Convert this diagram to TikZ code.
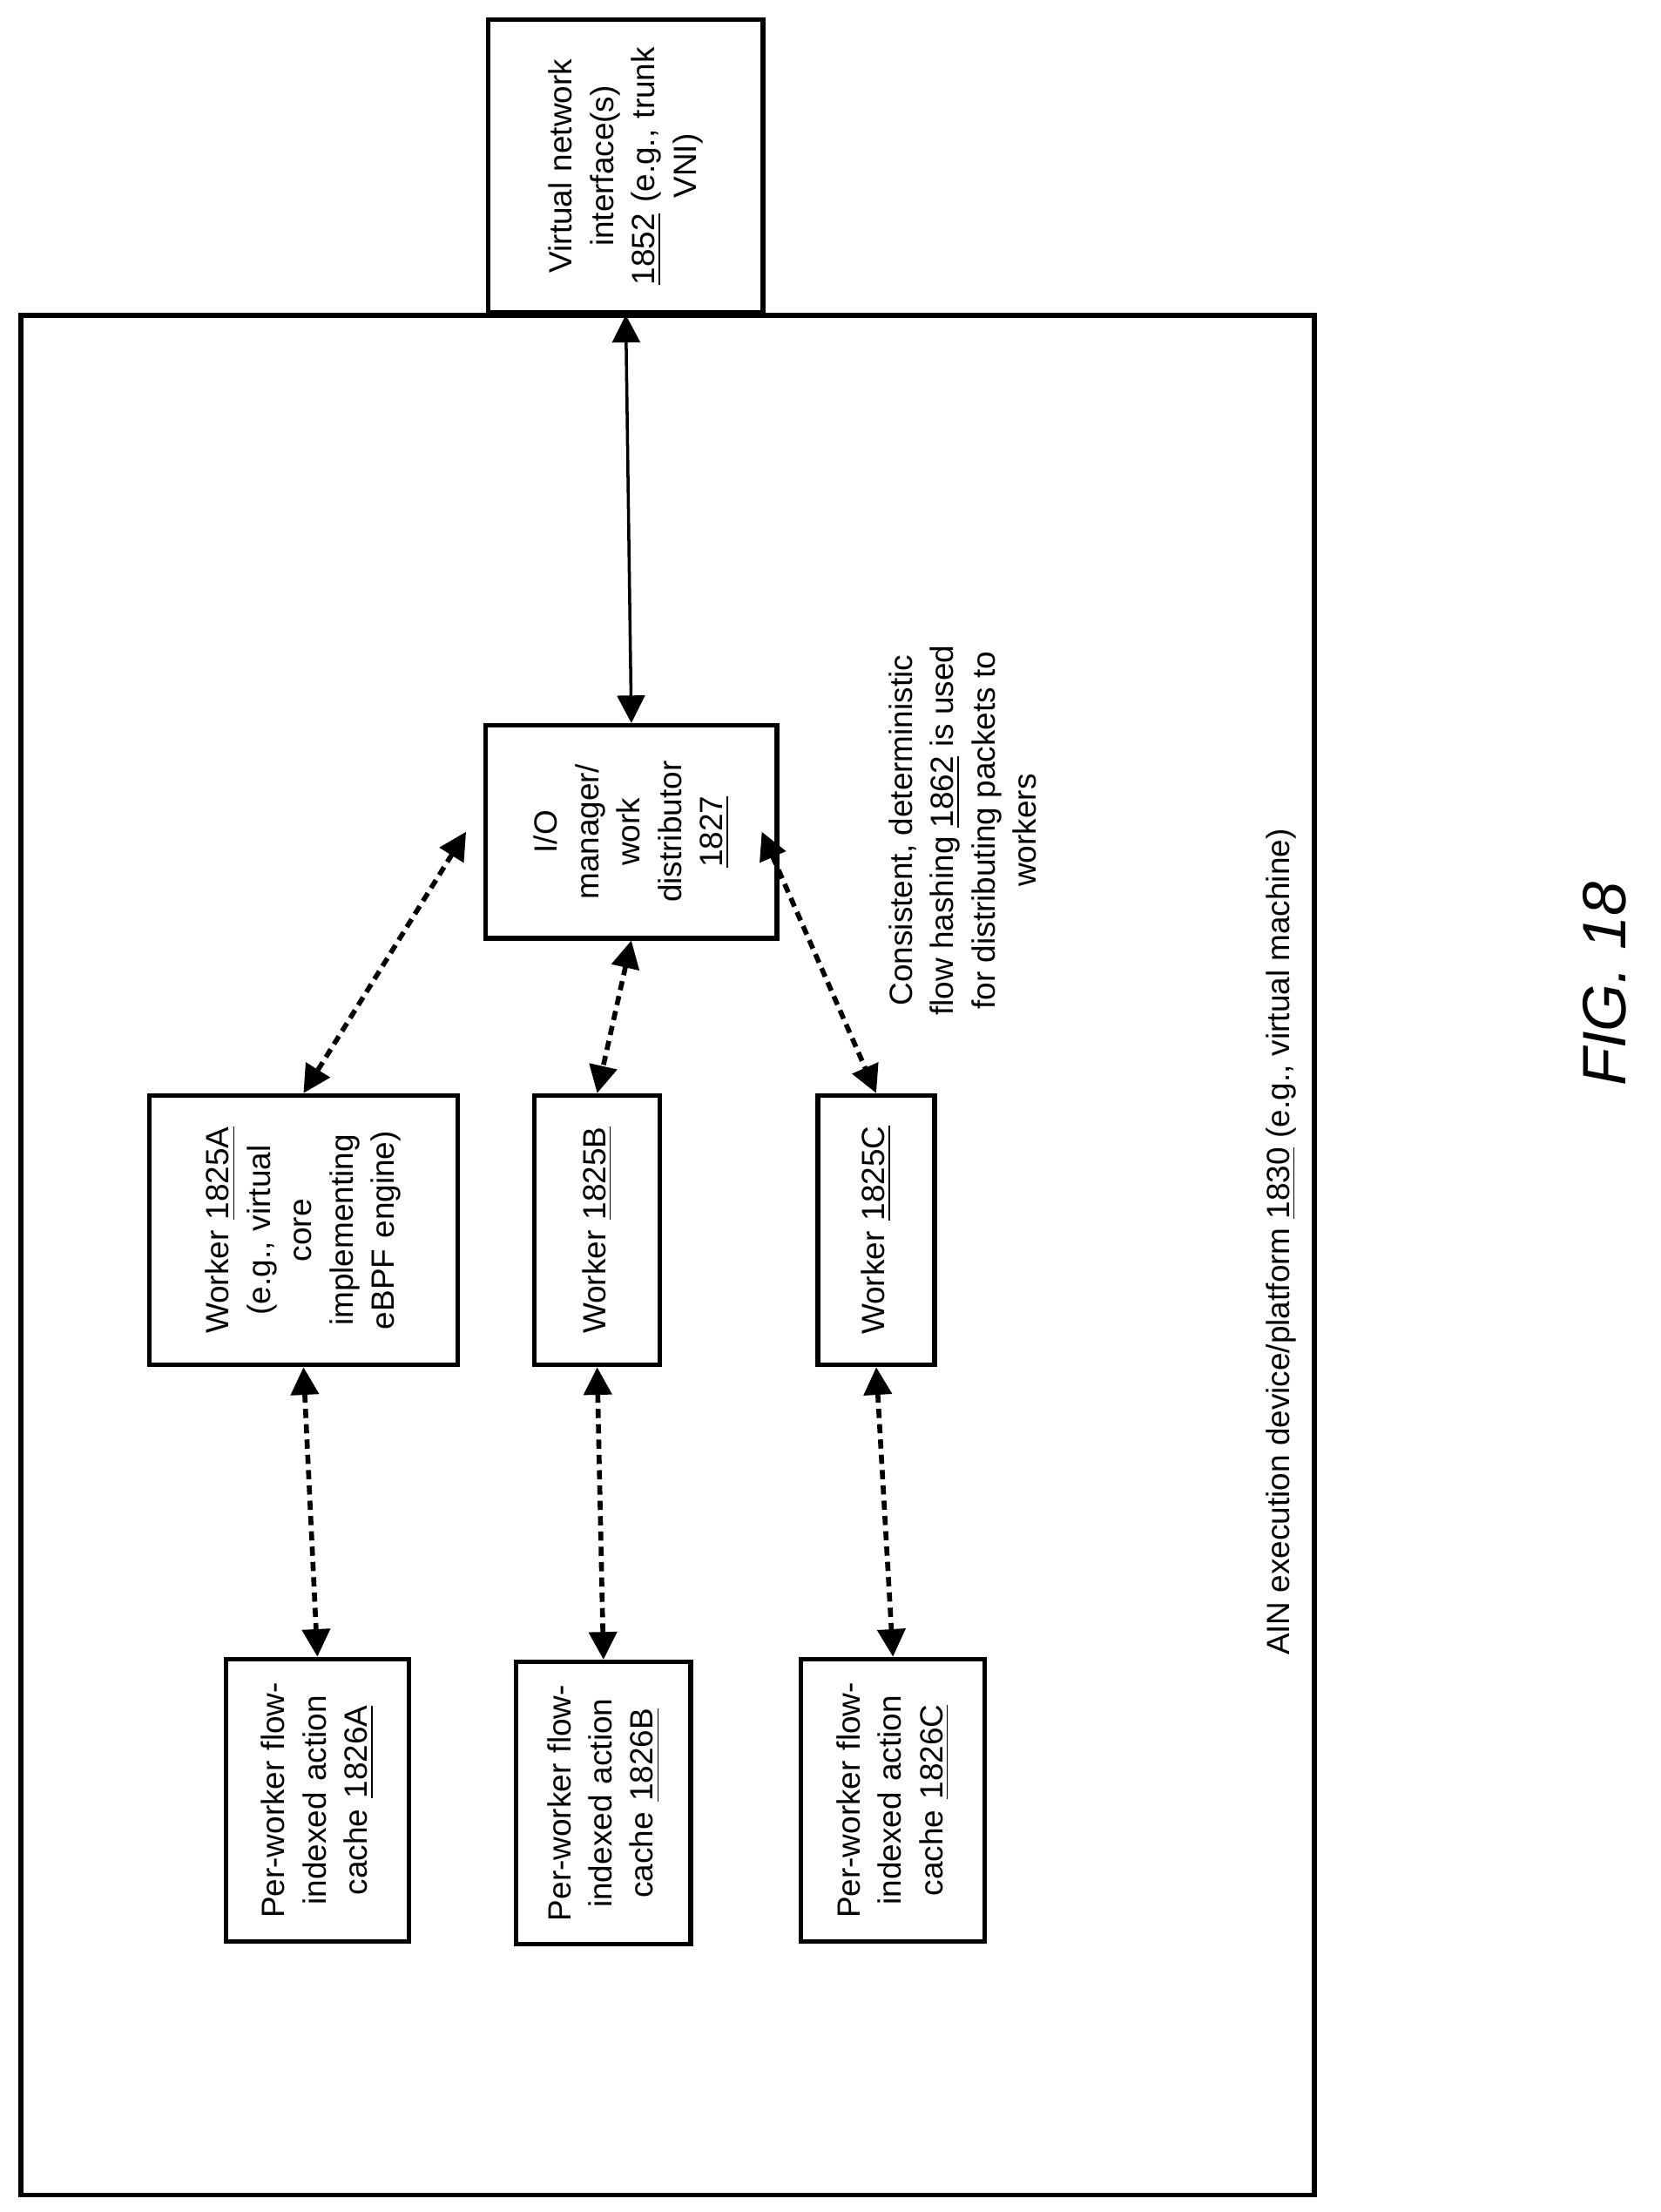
\documentclass[tikz,border=0pt]{standalone}
\usepackage{fontspec}
\setmainfont{Liberation Sans}
\usetikzlibrary{arrows.meta}
\tikzset{
  box/.style={draw=black, line width=1.5pt, rotate=90, align=center, inner sep=2pt,
    font=\fontsize{10.5}{13.5}\selectfont},
  dbl/.style={{Triangle[length=9pt,width=9pt]}-{Triangle[length=9pt,width=9pt]}, line width=1pt},
  dsh/.style={dbl, dashed, line width=1.6pt, dash pattern=on 3pt off 2pt},
}
\begin{document}
\begin{tikzpicture}[x=0.016cm, y=-0.016cm]
\useasboundingbox (0,0) rectangle (1190,1585);
\draw[line width=1.5pt] (15,226) rectangle (942,1573);
\node[box, minimum width=3.36cm, minimum height=3.15cm, text width=3.1cm] (vni) at (448.5,119)
  {Virtual network\\interface(s)\\\underline{1852} (e.g., trunk\\VNI)};
\node[box, minimum width=2.43cm, minimum height=3.34cm, text width=2.3cm] (io) at (452.5,596)
  {I/O\\manager/\\work\\distributor\\\underline{1827}};
\node[box, minimum width=3.09cm, minimum height=3.54cm, text width=2.9cm] (wa) at (217.5,881.5)
  {Worker \underline{1825A}\\(e.g., virtual\\core\\implementing\\eBPF engine)};
\node[box, minimum width=3.09cm, minimum height=1.44cm, text width=2.9cm] (wb) at (428,881.5)
  {Worker \underline{1825B}};
\node[box, minimum width=3.09cm, minimum height=1.34cm, text width=2.9cm] (wc) at (628,881.5)
  {Worker \underline{1825C}};
\node[box, minimum width=3.2cm, minimum height=2.1cm, text width=3.1cm] (ca) at (227.5,1290)
  {Per-worker flow-\\indexed action\\cache \underline{1826A}};
\node[box, minimum width=3.2cm, minimum height=2.0cm, text width=3.1cm] (cb) at (432.5,1292)
  {Per-worker flow-\\indexed action\\cache \underline{1826B}};
\node[box, minimum width=3.2cm, minimum height=2.11cm, text width=3.1cm] (cc) at (640,1290)
  {Per-worker flow-\\indexed action\\cache \underline{1826C}};
\node[rotate=90, align=center, font=\fontsize{10.5}{13.5}\selectfont] (hash) at (690,595)
  {Consistent, deterministic\\flow hashing \underline{1862} is used\\for distributing packets to\\workers};
\node[rotate=90, font=\fontsize{10.5}{13.5}\selectfont] (ain) at (918,890)
  {AIN execution device/platform \underline{1830} (e.g., virtual machine)};
\node[rotate=90, font=\fontsize{20}{24}\selectfont\itshape] (fig) at (1150,705) {FIG. 18};
% connectors
\draw[dbl] (vni.west) -- (io.east);
\draw[dsh] ([xshift=-0.2cm]io.north) -- (wa.east);
\draw[dsh] (io.west) -- (wb.east);
\draw[dsh] ([xshift=-0.2cm]io.south) -- (wc.east);
\draw[dsh] (wa.west) -- (ca.east);
\draw[dsh] (wb.west) -- (cb.east);
\draw[dsh] (wc.west) -- (cc.east);
\end{tikzpicture}
\end{document}
